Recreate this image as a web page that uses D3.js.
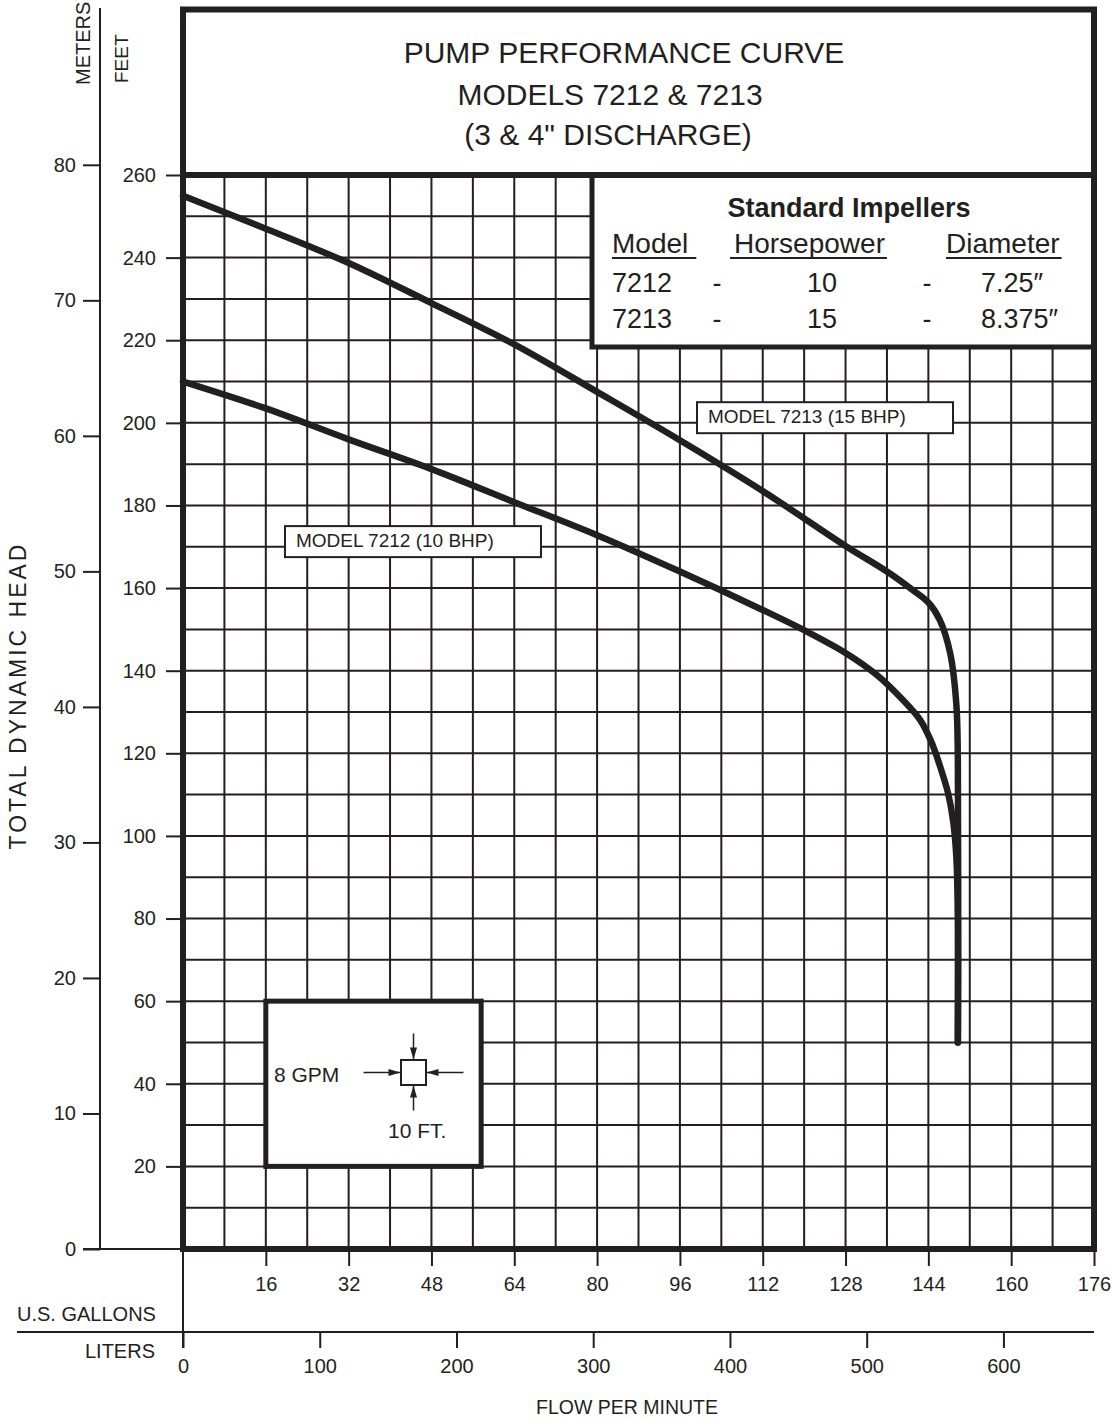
<!DOCTYPE html>
<html>
<head>
  <meta charset="utf-8">
  <title>Pump Performance Curve 7212 & 7213</title>
  <style>
    body { margin: 0; background: white; }
    svg  { display: block; }
    text { font-family: "Liberation Sans", Arial, sans-serif; fill: #231f20; }
    .tick line { stroke: #231f20; stroke-width: 2; }
    .grid line { stroke: #231f20; stroke-width: 2; }
  </style>
</head>
<body>
<svg id="chart" width="1112" height="1419"></svg>

<script src="https://d3js.org/d3.v7.min.js"></script>
<script>

// curve data: flow (US gpm) and head (feet)
var gpm7213 = [0, 16, 32, 48, 64, 80, 96, 112, 128, 136, 141, 144, 146.2, 148.2, 149.4, 149.7, 149.7];
var ft7213  = [255, 247, 238.7, 229, 219, 207.5, 195.8, 183.5, 170.2, 164, 159.5, 156.5, 152.3, 144.3, 132, 118, 50];

var gpm7212 = [0, 16, 32, 48, 64, 80, 96, 112, 120, 128, 134, 139, 142.4, 144.5, 146.3, 147.8, 148.8, 149.4, 149.7, 149.7];
var ft7212  = [210, 203.5, 196, 188.8, 180.8, 172.8, 164, 154.7, 149.8, 144.3, 139, 133, 128.1, 123, 116.7, 110.4, 103.5, 95, 80, 50];

var curveNames  = ["MODEL 7213 (15 BHP)", "MODEL 7212 (10 BHP)"];
var labelGpm    = [99.3, 19.7];
var labelFt     = [205, 175];

var feetTicks   = [0, 20, 40, 60, 80, 100, 120, 140, 160, 180, 200, 220, 240, 260];
var meterTicks  = [0, 10, 20, 30, 40, 50, 60, 70, 80];
var gallonTicks = [16, 32, 48, 64, 80, 96, 112, 128, 144, 160, 176];
var literTicks  = [0, 100, 200, 300, 400, 500, 600];

var titleLines  = ["PUMP PERFORMANCE CURVE", "MODELS 7212 & 7213", "(3 & 4\" DISCHARGE)"];
var legendHead  = ["Model", "Horsepower", "Diameter"];
var legendModel = ["7212", "7213"];
var legendHp    = ["10", "15"];
var legendDia   = ["7.25\u2033", "8.375\u2033"];

var INK = "#231f20";
var svg = d3.select("#chart");

var x  = d3.scaleLinear().domain([0, 176]).range([183, 1094]);
var y  = d3.scaleLinear().domain([0, 260]).range([1249, 175]);
var xL = d3.scaleLinear().domain([0, 176 * 3.78541]).range([183, 1094]);
var yM = d3.scaleLinear().domain([0, 260 / 3.28084]).range([1249, 175]);

// grid: 8 gpm x 10 ft
var grid = svg.append("g").attr("class", "grid");
grid.selectAll(".v").data(d3.range(8, 176, 8)).enter().append("line")
  .attr("x1", d => x(d)).attr("x2", d => x(d))
  .attr("y1", y(260)).attr("y2", y(0));
grid.selectAll(".h").data(d3.range(10, 260, 10)).enter().append("line")
  .attr("x1", x(0)).attr("x2", x(176))
  .attr("y1", d => y(d)).attr("y2", d => y(d));

// curves
var line = d3.line()
  .x(d => x(d[0]))
  .y(d => y(d[1]))
  .curve(d3.curveCatmullRom.alpha(0.5));

[[gpm7213, ft7213], [gpm7212, ft7212]].forEach(function(s){
  var pts = s[0].map((g, i) => [g, s[1][i]]);
  svg.append("path")
    .datum(pts)
    .attr("d", line)
    .attr("fill", "none")
    .attr("stroke", INK)
    .attr("stroke-width", 6.5)
    .attr("stroke-linecap", "round")
    .attr("stroke-linejoin", "round");
});

// curve labels
curveNames.forEach(function(name, i){
  var g = svg.append("g")
    .attr("transform", "translate(" + x(labelGpm[i]) + "," + y(labelFt[i]) + ")");
  g.append("rect")
    .attr("width", 256).attr("height", 31)
    .attr("fill", "white").attr("stroke", INK).attr("stroke-width", 2);
  g.append("text")
    .attr("x", 11).attr("y", 21)
    .style("font-size", "19px")
    .text(name);
});

// scale key box (8 gpm x 10 ft)
svg.append("rect")
  .attr("x", x(16)).attr("y", y(60))
  .attr("width", x(57.6) - x(16)).attr("height", y(20) - y(60))
  .attr("fill", "white").attr("stroke", INK).attr("stroke-width", 5);
svg.append("text").attr("x", 274).attr("y", 1082).style("font-size", "21px").text("8 GPM");
svg.append("text").attr("x", 388).attr("y", 1138).style("font-size", "21px").text("10 FT.");
svg.append("rect")
  .attr("x", 401).attr("y", 1060).attr("width", 25).attr("height", 25)
  .attr("fill", "white").attr("stroke", INK).attr("stroke-width", 2);
var cx = 413.5, cy = 1072.5;
var arrows = [
  [cx - 50, cy, cx - 13, cy],
  [cx + 50, cy, cx + 13, cy],
  [cx, cy - 39, cx, cy - 13],
  [cx, cy + 38, cx, cy + 13]
];
arrows.forEach(function(a){
  svg.append("line")
    .attr("x1", a[0]).attr("y1", a[1]).attr("x2", a[2]).attr("y2", a[3])
    .attr("stroke", INK).attr("stroke-width", 1.5);
  var dx = Math.sign(a[2] - a[0]), dy = Math.sign(a[3] - a[1]);
  var L = 12, W = 3.5;
  var bx = a[2] - dx * L, by = a[3] - dy * L;
  svg.append("path")
    .attr("d", "M" + a[2] + "," + a[3] +
               "L" + (bx - dy * W) + "," + (by - dx * W) +
               "L" + (bx + dy * W) + "," + (by + dx * W) + "Z")
    .attr("fill", INK);
});

// standard impellers legend
var lg = svg.append("g");
lg.append("rect")
  .attr("x", 592).attr("y", 175).attr("width", 502).attr("height", 172)
  .attr("fill", "white").attr("stroke", INK).attr("stroke-width", 5);
lg.append("text")
  .attr("x", 849).attr("y", 217).attr("text-anchor", "middle")
  .style("font-size", "27px").style("font-weight", "bold")
  .text("Standard Impellers");

var headX = [612, 734, 946];
legendHead.forEach(function(h, i){
  var t = lg.append("text")
    .attr("x", headX[i]).attr("y", 253)
    .style("font-size", "28px")
    .text(h);
  var w = t.node().getComputedTextLength();
  lg.append("line")
    .attr("x1", headX[i] - (i == 1 ? 4 : 0)).attr("x2", headX[i] + w + (i == 0 ? 8 : 2))
    .attr("y1", 258).attr("y2", 258)
    .attr("stroke", INK).attr("stroke-width", 2);
});

var rowY = [292, 328];
legendModel.forEach(function(m, i){
  lg.append("text").attr("x", 612).attr("y", rowY[i]).style("font-size", "27px").text(m);
  lg.append("text").attr("x", 717).attr("y", rowY[i]).attr("text-anchor", "middle").style("font-size", "27px").text("-");
  lg.append("text").attr("x", 822).attr("y", rowY[i]).attr("text-anchor", "middle").style("font-size", "27px").text(legendHp[i]);
  lg.append("text").attr("x", 927).attr("y", rowY[i]).attr("text-anchor", "middle").style("font-size", "27px").text("-");
  lg.append("text").attr("x", 981).attr("y", rowY[i]).style("font-size", "27px").text(legendDia[i]);
});

// frame and title box
svg.append("rect")
  .attr("x", x(0)).attr("y", 9.5)
  .attr("width", x(176) - x(0)).attr("height", y(0) - 9.5)
  .attr("fill", "none").attr("stroke", INK).attr("stroke-width", 6);
svg.append("line")
  .attr("x1", x(0)).attr("x2", x(176)).attr("y1", y(260)).attr("y2", y(260))
  .attr("stroke", INK).attr("stroke-width", 6);

var titleX = [624, 610, 608];
var titleY = [63, 105, 145];
titleLines.forEach(function(t, i){
  svg.append("text")
    .attr("x", titleX[i]).attr("y", titleY[i])
    .attr("text-anchor", "middle")
    .style("font-size", "30px")
    .text(t);
});

// feet axis
var feetAxis = svg.append("g")
  .attr("transform", "translate(" + x(0) + ",0)")
  .call(d3.axisLeft(y).tickValues(feetTicks.filter(d => d > 0)).tickSize(17).tickPadding(10));
feetAxis.select(".domain").remove();
feetAxis.selectAll("text").style("font-size", "20px").style("font-family", "Liberation Sans, Arial, sans-serif").attr("fill", INK);

// meters axis
var meterAxis = svg.append("g")
  .attr("transform", "translate(100,0)")
  .call(d3.axisLeft(yM).tickValues(meterTicks).tickSize(17).tickPadding(7));
meterAxis.select(".domain").remove();
meterAxis.selectAll("text").style("font-size", "20px").style("font-family", "Liberation Sans, Arial, sans-serif").attr("fill", INK);
svg.append("line").attr("x1", 100).attr("x2", 100).attr("y1", 8).attr("y2", y(0))
  .attr("stroke", INK).attr("stroke-width", 2);
svg.append("line").attr("x1", 83).attr("x2", x(0)).attr("y1", y(0)).attr("y2", y(0))
  .attr("stroke", INK).attr("stroke-width", 2);

// gallons axis
var galAxis = svg.append("g")
  .attr("transform", "translate(0," + y(0) + ")")
  .call(d3.axisBottom(x).tickValues(gallonTicks).tickSize(17));
galAxis.select(".domain").remove();
galAxis.selectAll("text").attr("y", 42).attr("dy", 0)
  .style("font-size", "20px").style("font-family", "Liberation Sans, Arial, sans-serif").attr("fill", INK);

// liters axis
var litAxis = svg.append("g")
  .attr("transform", "translate(0,1332)")
  .call(d3.axisBottom(xL).tickValues(literTicks).tickSize(16));
litAxis.select(".domain").remove();
litAxis.selectAll("text").attr("y", 41).attr("dy", 0)
  .style("font-size", "20px").style("font-family", "Liberation Sans, Arial, sans-serif").attr("fill", INK);
svg.append("line").attr("x1", 17).attr("x2", x(176)).attr("y1", 1332).attr("y2", 1332)
  .attr("stroke", INK).attr("stroke-width", 2);
svg.append("line").attr("x1", x(0)).attr("x2", x(0)).attr("y1", y(0)).attr("y2", 1348)
  .attr("stroke", INK).attr("stroke-width", 2);

// axis titles
svg.append("text").attr("transform", "translate(90,85) rotate(-90)")
  .style("font-size", "20px").text("METERS");
svg.append("text").attr("transform", "translate(128,83) rotate(-90)")
  .style("font-size", "19px").text("FEET");
svg.append("text").attr("transform", "translate(26,697) rotate(-90)")
  .attr("text-anchor", "middle").style("font-size", "23px")
  .attr("textLength", 305).attr("lengthAdjust", "spacing")
  .text("TOTAL DYNAMIC HEAD");
svg.append("text").attr("x", 17).attr("y", 1321).style("font-size", "20px").text("U.S. GALLONS");
svg.append("text").attr("x", 155).attr("y", 1358).attr("text-anchor", "end").style("font-size", "20px").text("LITERS");
svg.append("text").attr("x", 627).attr("y", 1414).attr("text-anchor", "middle").style("font-size", "19.5px").text("FLOW PER MINUTE");

</script>
</body>
</html>
